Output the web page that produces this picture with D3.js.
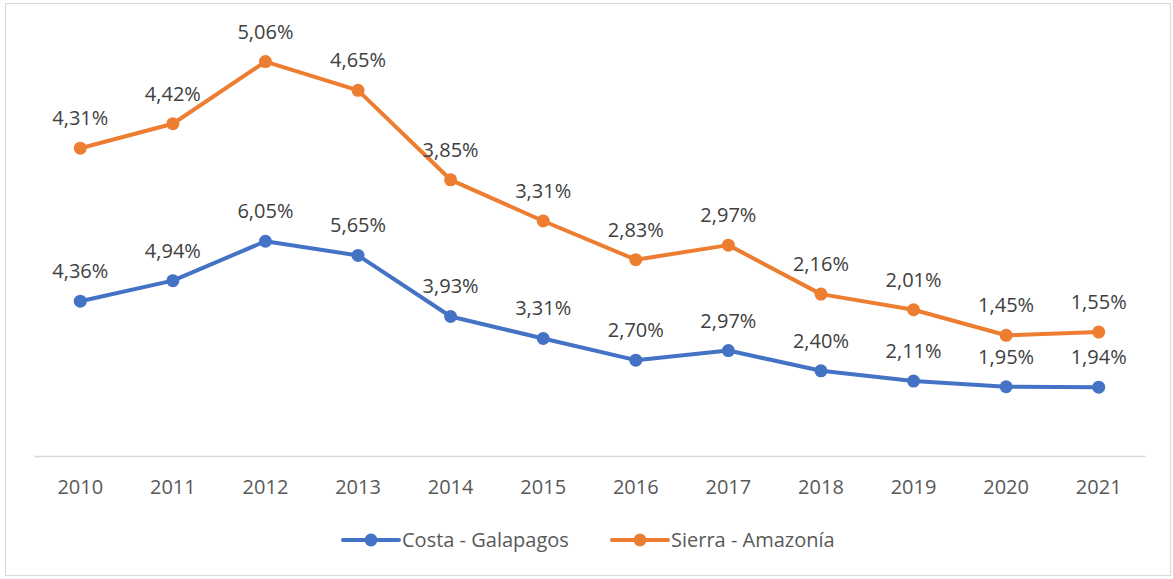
<!DOCTYPE html>
<html lang="en">
<head>
<meta charset="UTF-8">
<title>Costa - Sierra</title>
<script src="https://d3js.org/d3.v7.min.js"></script>
<style>
    body { margin: 0; background: #fff; }
    text { font-family: "Open Sans", sans-serif; }
</style>
</head>
<body>
<svg id="chart"></svg>
<script>
const years = ["2010", "2011", "2012", "2013", "2014", "2015", "2016", "2017", "2018", "2019", "2020", "2021"];
const costa = [4.36, 4.94, 6.05, 5.65, 3.93, 3.31, 2.70, 2.97, 2.40, 2.11, 1.95, 1.94];
const sierra = [4.31, 4.42, 5.06, 4.65, 3.85, 3.31, 2.83, 2.97, 2.16, 2.01, 1.45, 1.55];
const seriesNames = ["Costa - Galapagos", "Sierra - Amazonía"];
const colors = ["#4472C4", "#ED7D31"];

const width = 1173, height = 579;
const svg = d3.select("#chart").attr("width", width).attr("height", height);

// chart border
svg.append("rect")
    .attr("x", 5.5).attr("y", 3.5)
    .attr("width", 1165).attr("height", 572)
    .attr("fill", "none").attr("stroke", "#d9d9d9");

const x = d3.scaleBand().domain(years).range([34, 1145]);
const y = d3.scaleLinear().domain([0, 12]).range([456, 30]);

// stacked lines: second series sits on top of the first
const rows = years.map((yr, i) => ({ year: yr, costa: costa[i], sierra: sierra[i] }));
const stacked = d3.stack().keys(["costa", "sierra"])(rows);

// x axis
const xAxis = svg.append("g")
    .attr("transform", "translate(0,456)")
    .call(d3.axisBottom(x).tickSize(0).tickPadding(24));
xAxis.select(".domain").attr("stroke", "#d9d9d9").attr("stroke-width", 1.5);
xAxis.selectAll("text")
    .attr("fill", "#595959")
    .style("font-size", "20px")
    .style("font-family", "'Open Sans', sans-serif");

const line = d3.line()
    .x(d => x(d.data.year) + x.bandwidth() / 2)
    .y(d => y(d[1]));

stacked.forEach((layer, k) => {
    svg.append("path")
        .datum(layer)
        .attr("fill", "none")
        .attr("stroke", colors[k])
        .attr("stroke-width", 4)
        .attr("stroke-linejoin", "round")
        .attr("stroke-linecap", "round")
        .attr("d", line);

    svg.selectAll(".dot" + k)
        .data(layer)
        .enter().append("circle")
        .attr("cx", d => x(d.data.year) + x.bandwidth() / 2)
        .attr("cy", d => y(d[1]))
        .attr("r", 6.5)
        .attr("fill", colors[k]);

    svg.selectAll(".lbl" + k)
        .data(layer)
        .enter().append("text")
        .attr("x", d => x(d.data.year) + x.bandwidth() / 2)
        .attr("y", d => y(d[1]) - 23)
        .attr("text-anchor", "middle")
        .attr("fill", "#404040")
        .style("font-size", "20px")
        .text(d => (d[1] - d[0]).toFixed(2).replace(".", ",") + "%");
});

// legend
const legendX = [343, 612];
seriesNames.forEach((name, k) => {
    const g = svg.append("g").attr("transform", `translate(${legendX[k]},540)`);
    g.append("line")
        .attr("x1", 0).attr("x2", 56)
        .attr("stroke", colors[k]).attr("stroke-width", 4)
        .attr("stroke-linecap", "round");
    g.append("circle").attr("cx", 28).attr("r", 6.5).attr("fill", colors[k]);
    g.append("text")
        .attr("x", 59).attr("y", 7)
        .attr("fill", "#595959")
        .style("font-size", "20px")
        .text(name);
});
</script>
</body>
</html>
